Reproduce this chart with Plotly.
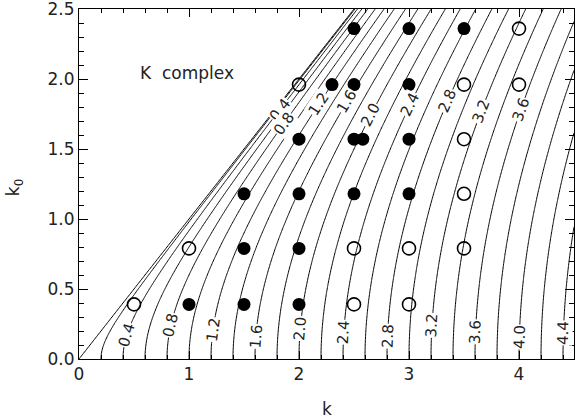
import numpy as np
import plotly.graph_objects as go

# contour levels of K = sqrt(k^2 - k0^2)
levels = [0.0, 0.2, 0.4, 0.6, 0.8, 1.0, 1.2, 1.4, 1.6, 1.8, 2.0, 2.2,
          2.4, 2.6, 2.8, 3.0, 3.2, 3.4, 3.6, 3.8, 4.0, 4.2, 4.4]
label_levels_low = [0.4, 0.8, 1.2, 1.6, 2.0, 2.4, 2.8, 3.2, 3.6, 4.0, 4.4]
label_levels_high = [0.4, 0.8, 1.2, 1.6, 2.0, 2.4, 2.8, 3.2, 3.6]

# sample points
filled_k = [1.0, 1.5, 2.0, 1.5, 2.0, 1.5, 2.0, 2.5, 3.0, 2.0, 2.5, 2.58, 3.0,
            2.3, 2.5, 3.0, 2.5, 3.0, 3.5]
filled_k0 = [0.39, 0.39, 0.39, 0.79, 0.79, 1.18, 1.18, 1.18, 1.18, 1.57, 1.57, 1.57, 1.57,
             1.96, 1.96, 1.96, 2.36, 2.36, 2.36]
open_k = [0.5, 2.5, 3.0, 1.0, 2.5, 3.0, 3.5, 3.5, 3.5, 2.0, 3.5, 4.0, 4.0]
open_k0 = [0.39, 0.39, 0.39, 0.79, 0.79, 0.79, 0.79, 1.18, 1.57, 1.96, 1.96, 1.96, 2.36]

kg = np.linspace(0, 4.5, 451)
k0g = np.linspace(0, 2.5, 251)
KK, K0 = np.meshgrid(kg, k0g)
d = KK**2 - K0**2
Z = np.sign(d) * np.sqrt(np.abs(d))

FONT = "DejaVu Sans"
TXT = "#222"
fig = go.Figure()
fig.add_trace(go.Contour(
    x=kg, y=k0g, z=Z,
    contours=dict(start=levels[0], end=levels[-1], size=levels[1] - levels[0],
                  coloring="lines", showlabels=False),
    colorscale=[[0, "black"], [1, "black"]], showscale=False,
    line=dict(width=1), hoverinfo="skip"))

fig.add_trace(go.Scatter(x=filled_k, y=filled_k0, mode="markers",
                         marker=dict(symbol="circle", size=13, color="black"),
                         showlegend=False))
fig.add_trace(go.Scatter(x=open_k, y=open_k0, mode="markers",
                         marker=dict(symbol="circle-open", size=13, color="black",
                                     line=dict(width=1.6)),
                         showlegend=False))

PX_X, PX_Y = 110.0, 140.0
low_pos = [0.17, 0.24, 0.21, 0.16, 0.22, 0.19, 0.16, 0.24, 0.19, 0.16, 0.19]
high_pos = [1.78, 1.68, 1.82, 1.84, 1.74, 1.82, 1.84, 1.77, 1.78]
anns = []
for lv_list, pos_list in ((label_levels_low, low_pos), (label_levels_high, high_pos)):
    for lv, k0 in zip(lv_list, pos_list):
        k = np.sqrt(lv**2 + k0**2)
        ang = np.degrees(np.arctan2(-PX_Y, PX_X * k0 / k))
        anns.append(dict(x=k, y=k0, xref="x", yref="y", text=f"{lv:.1f}",
                         showarrow=False, textangle=ang, bgcolor="white",
                         borderpad=0, font=dict(family=FONT, size=15, color=TXT)))
anns.append(dict(x=0.98, y=2.04, xref="x", yref="y", text="K  complex", showarrow=False,
                 font=dict(family=FONT, size=17, color=TXT)))
# axis titles
anns.append(dict(x=0.5, y=-0.142, xref="paper", yref="paper", text="k", showarrow=False,
                 yanchor="middle", font=dict(family=FONT, size=17, color=TXT)))
anns.append(dict(x=-0.13, y=0.49, xref="paper", yref="paper", text="k<sub>0</sub>",
                 showarrow=False, textangle=-90, xanchor="center",
                 font=dict(family=FONT, size=17, color=TXT)))
fig.update_layout(annotations=anns)

axis_common = dict(showline=True, linecolor="black", linewidth=1, mirror="allticks",
                   ticks="inside", tickcolor="black", showgrid=False, zeroline=False,
                   automargin=False, ticklabeloverflow="allow",
                   tickfont=dict(family=FONT, size=17, color=TXT))
fig.update_xaxes(range=[0, 4.5], tickvals=[0, 1, 2, 3, 4], ticklen=8,
                 minor=dict(dtick=0.2, tick0=0, ticklen=4, ticks="inside", tickcolor="black"),
                 **axis_common)
fig.update_yaxes(range=[0, 2.5], tickvals=[0, 0.5, 1.0, 1.5, 2.0, 2.5], tickformat=".1f",
                 ticklen=9, minor=dict(dtick=0.1, tick0=0, ticklen=5, ticks="inside", tickcolor="black"),
                 **axis_common)
fig.update_layout(width=576, height=419, margin=dict(l=79, r=2, t=9, b=60),
                  plot_bgcolor="white", paper_bgcolor="white", showlegend=False)
fig.write_html("out.html", config={"displayModeBar": False},
               post_script="document.body.style.margin='0px';")
